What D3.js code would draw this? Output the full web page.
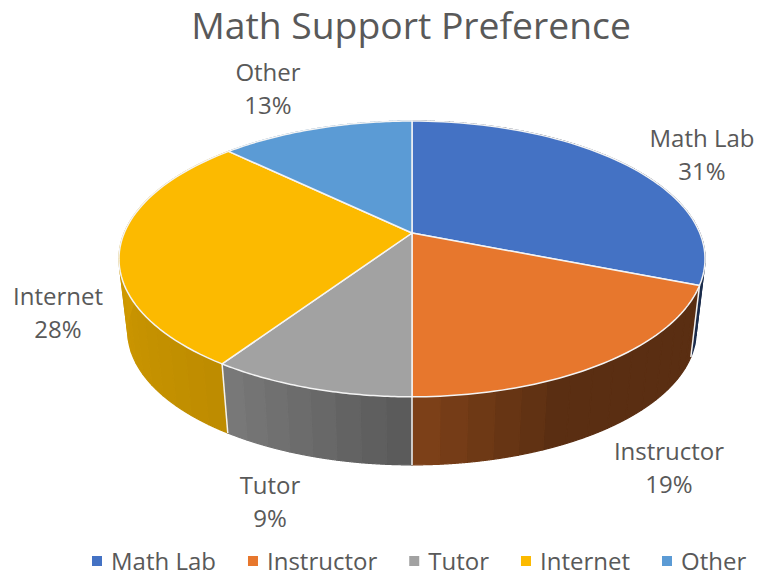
<!DOCTYPE html>
<html>
<head>
<meta charset="utf-8">
<title>Math Support Preference</title>
<script src="https://cdn.jsdelivr.net/npm/d3@7"></script>
<style>
  body { margin: 0; background: #fff; }
  text { font-family: "Open Sans", "Noto Sans", sans-serif; fill: #595959; }
</style>
</head>
<body>
<div id="container"></div>
<script>
/* DATA */
const categories = ["Math Lab", "Instructor", "Tutor", "Internet", "Other"];
const shares = [31, 19, 9.4, 27.8, 12.8]; // read from slice edges, labels round these
const colors = ["#4472c4", "#e7772d", "#a2a2a2", "#fcba00", "#5b9bd5"];

/* CONSTANTS */
const width = 760;
const height = 576;
const cx = 412;

// label centres, in the same order as categories
const labelPos = [[702, 155], [669, 468], [270, 502], [58, 313], [268, 89]];

const svg = d3.select("#container")
  .append("svg")
  .attr("width", width)
  .attr("height", height);

/* PROJECTION - the tilted disc, far side is squeezed by perspective */
const persp = 0.188;
const project = (theta, scale, yc) => {
  const X = Math.sin(theta);
  const Y = Math.cos(theta);
  const w = 1 + persp * Y;
  return [cx + scale * 287.8 * X / w, yc - scale * 133 * Y / w];
};
const topPt = theta => project(theta, 1, 233);
const bottomPt = theta => project(theta, 0.97, 306);

const slices = d3.pie().sort(null).value(d => d)(shares);

const line = d3.line();
const arcPoints = (a0, a1, fn) => d3.range(0, 61).map(i => fn(a0 + (a1 - a0) * i / 60));

/* SIDE WALL - banded shading, brightness depends on the direction */
const shade = d3.scaleLinear()
  .domain([110, 155, 180, 213, 280].map(d => d * Math.PI / 180))
  .range([0.39, 0.39, 0.55, 0.75, 0.84])
  .clamp(true);
const bandStep = 4.5 * Math.PI / 180;

const sideBands = [];
slices.forEach((s, i) => {
  const n = Math.max(1, Math.round((s.endAngle - s.startAngle) / bandStep));
  d3.range(n).forEach(k => {
    const a0 = s.startAngle + (s.endAngle - s.startAngle) * k / n;
    const a1 = s.startAngle + (s.endAngle - s.startAngle) * (k + 1) / n;
    sideBands.push({ i, a0, a1 });
  });
});

const bandColor = d => {
  const c = d3.rgb(colors[d.i]);
  const f = shade((d.a0 + d.a1) / 2);
  return d3.rgb(c.r * f, c.g * f, c.b * f);
};

svg.append("g")
  .selectAll("path")
  .data(sideBands)
  .join("path")
  .attr("d", d => line([...arcPoints(d.a0, d.a1, topPt), ...arcPoints(d.a0, d.a1, bottomPt).reverse()]) + "Z")
  .attr("fill", bandColor)
  .attr("stroke", bandColor)
  .attr("stroke-width", 1.2)
  .attr("stroke-linejoin", "round");

// white seams on the wall at the slice edges that face us
svg.append("g")
  .selectAll("path")
  .data(slices.filter(s => s.startAngle > Math.PI / 2 && s.startAngle < 1.5 * Math.PI))
  .join("path")
  .attr("d", s => line([topPt(s.startAngle), bottomPt(s.startAngle)]))
  .attr("stroke", "#f2f2f2")
  .attr("stroke-width", 1.5)
  .attr("fill", "none");

/* TOP FACE */
svg.append("g")
  .selectAll("path")
  .data(slices)
  .join("path")
  .attr("d", s => line([[cx, 233], ...arcPoints(s.startAngle, s.endAngle, topPt)]) + "Z")
  .attr("fill", (s, i) => colors[i])
  .attr("stroke", "#f4f4f4")
  .attr("stroke-width", 1.5)
  .attr("stroke-linejoin", "round");

/* TITLE */
svg.append("text")
  .attr("x", 411)
  .attr("y", 39)
  .attr("text-anchor", "middle")
  .style("font-size", "37.3px")
  .text("Math Support Preference");

/* DATA LABELS */
const pct = d3.format(".0f");
const labels = svg.append("g")
  .selectAll("text")
  .data(categories)
  .join("text")
  .attr("text-anchor", "middle")
  .style("font-size", "24px");
labels.append("tspan")
  .attr("x", (d, i) => labelPos[i][0])
  .attr("y", (d, i) => labelPos[i][1] - 8)
  .text(d => d);
labels.append("tspan")
  .attr("x", (d, i) => labelPos[i][0])
  .attr("y", (d, i) => labelPos[i][1] + 25)
  .text((d, i) => pct(shares[i]) + "%");

/* LEGEND - flows left to right from the measured text widths */
let legendX = 92;
categories.forEach((d, i) => {
  svg.append("rect")
    .attr("x", legendX)
    .attr("y", 556)
    .attr("width", 10)
    .attr("height", 10)
    .attr("fill", colors[i]);
  const t = svg.append("text")
    .attr("x", legendX + 19)
    .attr("y", 570)
    .style("font-size", "24px")
    .text(d);
  legendX += 19 + t.node().getComputedTextLength() + 32;
});
</script>
</body>
</html>
